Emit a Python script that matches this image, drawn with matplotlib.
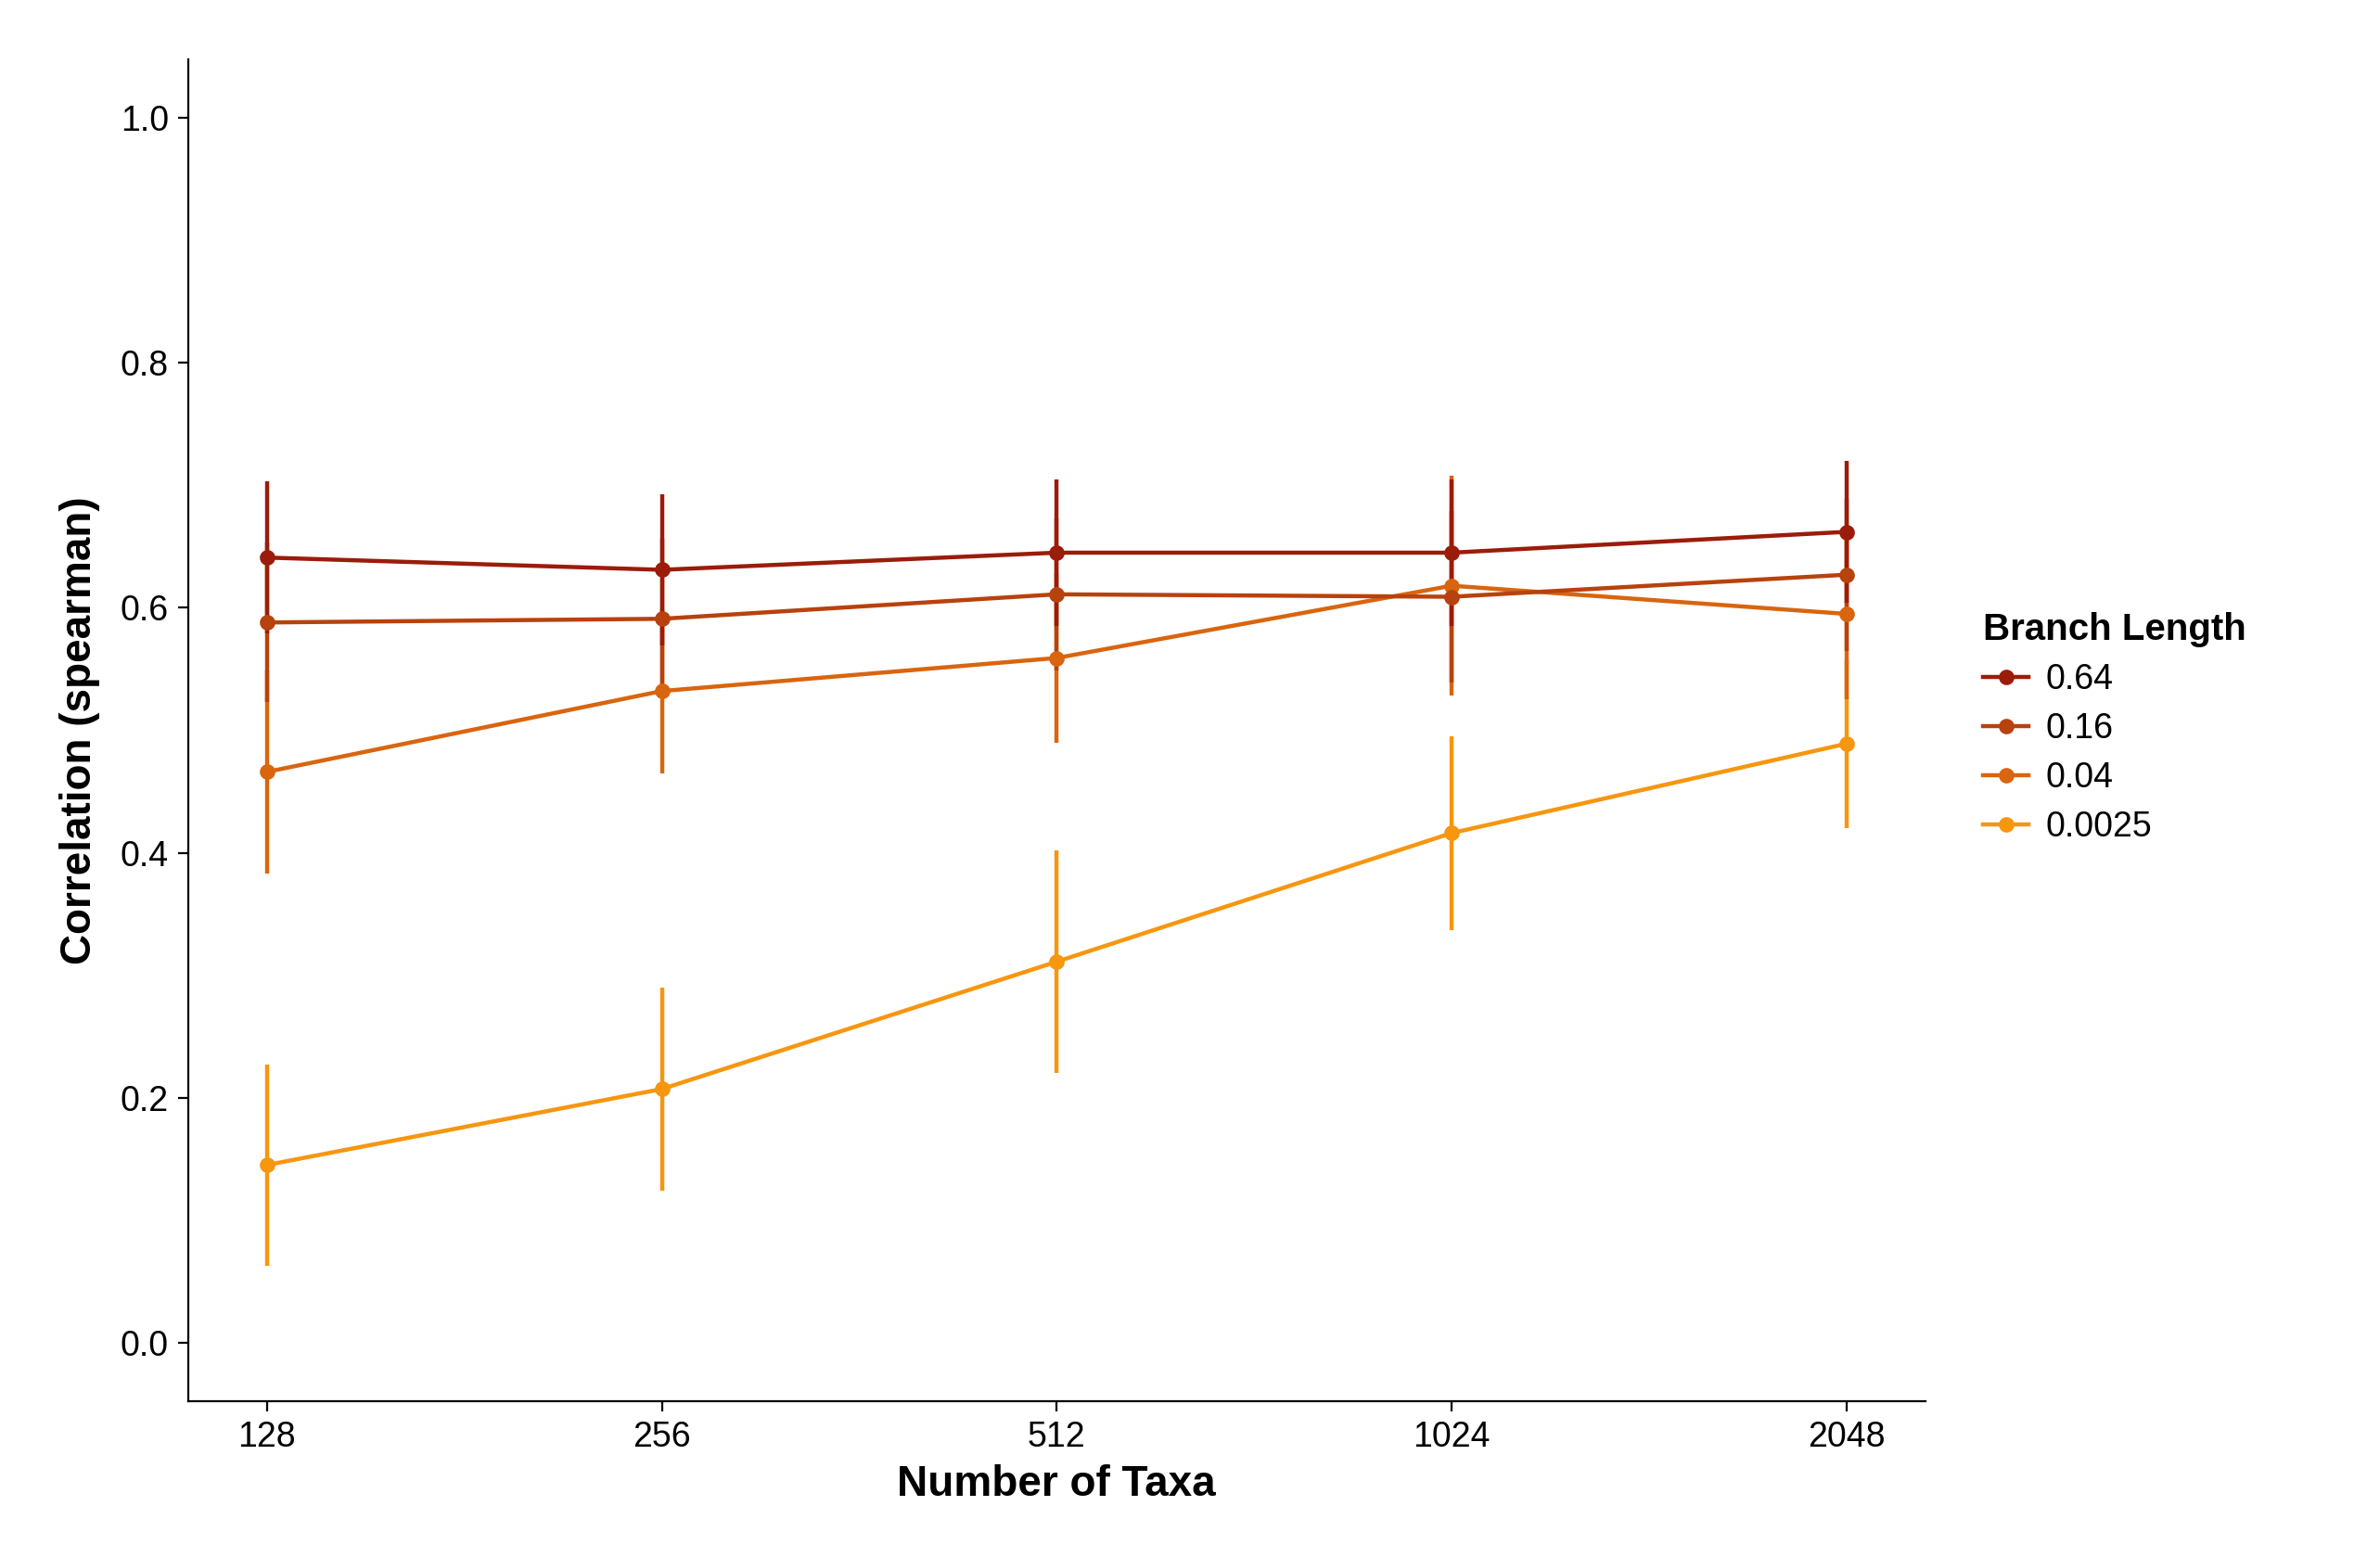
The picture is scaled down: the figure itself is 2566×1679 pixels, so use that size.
import matplotlib
matplotlib.use("Agg")
import matplotlib.pyplot as plt
from matplotlib.lines import Line2D

plt.rcParams['font.family'] = ['Liberation Sans', 'DejaVu Sans']

taxa = ["128", "256", "512", "1024", "2048"]
branch_lengths = ["0.64", "0.16", "0.04", "0.0025"]
colors = ["#9B1C0A", "#B8420D", "#D9650F", "#F7960F"]

mean_064 = [0.641, 0.631, 0.645, 0.645, 0.662]
err_064 = [0.062, 0.062, 0.060, 0.060, 0.058]
mean_016 = [0.588, 0.591, 0.611, 0.609, 0.627]
err_016 = [0.065, 0.065, 0.062, 0.070, 0.062]
mean_004 = [0.466, 0.532, 0.559, 0.618, 0.595]
err_004 = [0.083, 0.067, 0.069, 0.090, 0.070]
mean_00025 = [0.145, 0.207, 0.311, 0.416, 0.489]
err_00025 = [0.082, 0.083, 0.091, 0.079, 0.069]

means = [mean_064, mean_016, mean_004, mean_00025]
errs = [err_064, err_016, err_004, err_00025]

fig = plt.figure(figsize=(12.83, 8.395), dpi=200)
ax = fig.add_axes([0.079, 0.100, 0.730, 0.862])
x = list(range(len(taxa)))
# draw from lowest so darkest sits on top
for lab, m, e, c in reversed(list(zip(branch_lengths, means, errs, colors))):
    ax.errorbar(x, m, yerr=e, color=c, marker='o', markersize=5, lw=1.6,
                elinewidth=1.6, capsize=0)

ax.set_xlim(-0.2, 4.2)
ax.set_ylim(-0.048, 1.048)
ax.set_xticks(x)
ax.set_xticklabels(taxa)
ax.set_yticks([0.0, 0.2, 0.4, 0.6, 0.8, 1.0])
ax.set_yticklabels(["0.0", "0.2", "0.4", "0.6", "0.8", "1.0"])
ax.tick_params(labelsize=13.5, length=4)
for s in ["top", "right"]:
    ax.spines[s].set_visible(False)
ax.set_xlabel("Number of Taxa", fontsize=16.5, fontweight='bold', labelpad=4)
ax.set_ylabel("Correlation (spearman)", fontsize=16.5, fontweight='bold', labelpad=8)

handles = [Line2D([], [], color=c, marker='o', markersize=5, lw=1.6) for c in colors]
leg = fig.legend(handles, branch_lengths, title="Branch Length",
                 loc='upper left', bbox_to_anchor=(0.826, 0.618), frameon=False,
                 fontsize=13.5, title_fontsize=14.5, handlelength=1.3,
                 handletextpad=0.5, borderpad=0, labelspacing=0.45)
leg.get_title().set_fontweight('bold')
leg._legend_box.align = "left"

fig.savefig("out.png", dpi=200)
